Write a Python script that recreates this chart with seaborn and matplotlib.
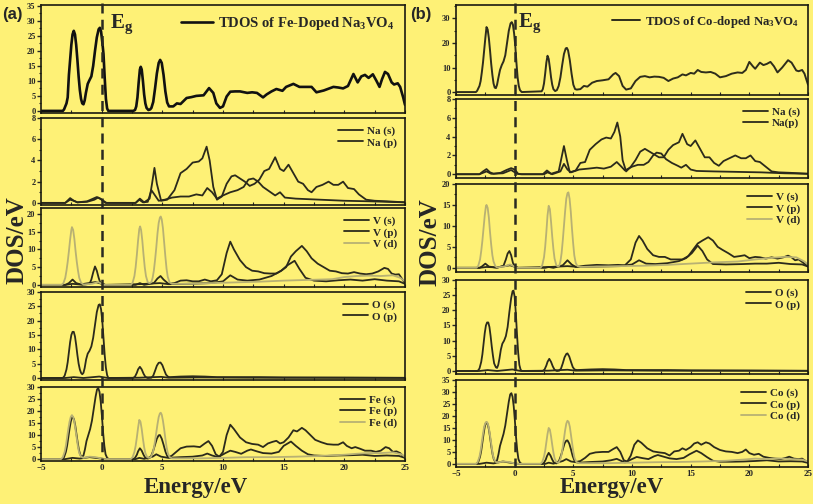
import matplotlib
matplotlib.use("Agg")
import matplotlib.pyplot as plt
import seaborn as sns
from matplotlib import transforms
from matplotlib.lines import Line2D
from matplotlib.ticker import MultipleLocator

# ---------------- data: (energy eV, DOS) ----------------
# (a) Fe-doped Na3VO4
tdos_fe = [(-5,0),(-3.2,0),(-3.1,0.5),(-2.9,2.5),(-2.8,4.5),(-2.7,12),(-2.6,17),(-2.5,22),(-2.4,25.5),
           (-2.3,26.7),(-2.2,25.5),(-2.1,22),(-2.0,17),(-1.9,11.5),(-1.8,7),(-1.7,4),(-1.6,2.5),(-1.5,2.2),
           (-1.4,3.5),(-1.3,6),(-1.15,9),(-1.0,10.3),(-0.85,11.5),(-0.7,15),(-0.55,20),(-0.4,24.5),
           (-0.25,27.2),(-0.15,27.7),(-0.05,26.5),(0.05,23),(0.15,19),(0.25,11),(0.35,4),(0.45,0.8),
           (0.55,0),(2.6,0),(2.75,0.3),(2.85,1.5),(2.95,4.5),(3.05,9.5),(3.15,13.8),(3.22,14.7),
           (3.3,13.8),(3.4,10),(3.5,5.5),(3.6,2.5),(3.7,1),(3.85,0.3),(4.0,0.5),(4.1,1),(4.25,3),
           (4.4,7.5),(4.55,12.5),(4.7,16),(4.82,17),(4.95,16),(5.1,12),(5.25,6.5),(5.4,2.8),(5.55,1.5),
           (5.9,1.5),(6.2,2.5),(6.5,2.3),(7.0,4.3),(7.4,4.6),(7.8,5),(8.4,5.2),(8.85,7.6),(9.2,6),
           (9.45,2.5),(9.75,1.0),(10.0,1.5),(10.3,4.8),(10.6,6.4),(11.0,6.5),(11.4,6.5),(12.0,6),
           (12.4,6.2),(12.8,6),(13.3,4.5),(13.6,5.5),(14.0,6.5),(14.4,7.3),(14.9,6.7),(15.2,8),(15.8,9),
           (16.3,8),(16.8,8),(17.3,8),(17.7,6.2),(18.3,6.8),(19.1,8),(19.5,7.8),(19.9,7.5),(20.3,8.3),
           (20.75,12.3),(21.1,9.5),(21.4,11.5),(21.7,12),(22.0,11),(22.35,12.2),(22.65,10),(22.9,8),
           (23.1,10.5),(23.35,13),(23.6,12.3),(23.9,9.5),(24.1,8.8),(24.4,9.2),(24.6,8),(24.85,4.5),(25,2)]

na_s_fe = [(-5,0),(-3.0,0),(-2.6,0.3),(-2.3,0.2),(-2.0,0.05),(-1.2,0.1),(-0.6,0.3),(-0.3,0.5),(0.0,0.3),
           (0.4,0),(2.8,0),(3.1,0.3),(3.4,0.05),(3.8,0.1),(4.1,1.2),(4.4,0.7),(4.7,0.2),(5.2,0.3),(5.8,0.5),
           (6.5,0.6),(7.2,0.6),(7.8,0.8),(8.3,0.7),(8.7,1.4),(9.1,1.0),(9.5,0.4),(10.0,0.7),(10.6,1.0),
           (11.2,1.2),(11.7,1.5),(12.1,2.2),(12.5,2.3),(12.9,2.0),(13.3,1.5),(13.8,1.1),(14.3,0.7),
           (14.7,1.0),(15.1,0.5),(16.0,0.4),(18,0.3),(20,0.2),(22,0.15),(25,0.05)]
na_p_fe = [(-5,0),(-3.0,0),(-2.6,0.45),(-2.3,0.2),(-2.0,0.05),(-1.2,0.15),(-0.7,0.4),(-0.4,0.55),(-0.1,0.4),
           (0.3,0),(2.8,0),(3.15,0.4),(3.5,0.05),(3.95,0.4),(4.15,1.8),(4.35,3.3),(4.55,1.8),(4.9,0.2),
           (5.4,0.3),(6.0,1.2),(6.5,2.8),(7.0,3.2),(7.5,3.8),(8.0,3.9),(8.3,4.2),(8.65,5.3),(8.9,4.0),
           (9.2,1.5),(9.5,0.3),(9.9,0.6),(10.3,1.8),(10.7,2.5),(11.0,2.6),(11.4,2.3),(11.8,2.0),(12.2,1.6),
           (12.6,1.8),(13.0,2.2),(13.4,3.0),(13.8,3.2),(14.3,4.3),(14.7,3.2),(15.0,3.0),(15.4,3.6),
           (15.8,2.8),(16.2,2.0),(16.6,1.8),(17.0,1.2),(17.3,1.0),(17.7,1.5),(18.2,1.7),(18.7,2.0),
           (19.1,1.7),(19.5,1.7),(19.9,2.0),(20.3,1.4),(20.8,1.3),(21.2,0.8),(21.8,0.3),(22.5,0.2),
           (23.5,0.15),(25,0.05)]

v_s_fe = [(-5,0),(-3,0),(-2.4,0.3),(-1.8,0.1),(-0.5,0.8),(0.3,0),(3.1,0.2),(4.8,0.5),(5.5,0.2),(7,0.3),
          (9,0.5),(10.0,1.0),(10.6,2.7),(11.2,1.5),(12,1.2),(13,1.5),(14,2.5),(14.8,4),(15.3,5.5),
          (15.9,6.8),(16.3,4.5),(16.8,2),(17.5,1.2),(18.5,1.0),(19.5,1.3),(20.5,1.5),(21.5,1.2),
          (22.5,1.6),(23.5,1.2),(24.5,1.0),(25,0.3)]
v_p_fe = [(-5,0),(-3.0,0),(-2.7,0.5),(-2.4,1.5),(-2.1,0.5),(-1.6,0),(-1.0,0.3),(-0.85,1.5),(-0.7,3.5),
          (-0.55,5.2),(-0.4,4),(-0.25,2),(-0.1,0.5),(0.3,0),(2.8,0),(3.15,0.5),(3.5,0),(4.3,0.5),
          (4.6,1.8),(4.85,2.5),(5.1,1.5),(5.5,0.3),(6.0,0.5),(6.5,1.2),(7.0,1.3),(7.5,1.0),(8.0,1.0),
          (8.5,1.5),(9.0,1.0),(9.5,1.3),(9.9,3),(10.3,9),(10.6,12.2),(10.9,10),(11.4,7),(11.9,5),
          (12.4,4),(12.9,3.8),(13.4,3.3),(13.9,3.2),(14.4,3.2),(14.8,4),(15.2,5),(15.6,8),(16.0,9.5),
          (16.5,11),(16.9,9.5),(17.3,7.5),(17.8,6),(18.3,5),(18.8,4),(19.3,3.8),(19.8,3.3),(20.3,3.2),
          (20.8,3.6),(21.3,3.2),(21.8,3.0),(22.3,3.2),(22.8,3.8),(23.3,4.8),(23.6,4.5),(23.9,3.2),
          (24.2,2.9),(24.5,3.0),(24.8,1.5),(25,0.5)]
v_d_fe = [(-5,0),(-3.3,0),(-3.15,0.5),(-3.0,2),(-2.9,4),(-2.8,6.5),(-2.7,9.5),(-2.6,12.8),(-2.5,15.5),
          (-2.45,16.3),(-2.35,15.5),(-2.25,13),(-2.15,9.5),(-2.05,6.5),(-1.95,4),(-1.85,2),(-1.7,0.6),
          (-1.5,0.1),(-0.8,0.3),(-0.3,0.8),(0.2,0),(2.4,0),(2.55,0.6),(2.7,2.5),(2.8,5),(2.9,8.5),
          (3.0,12.5),(3.1,15.8),(3.17,16.5),(3.25,15.5),(3.35,12.5),(3.45,8.5),(3.55,5),(3.65,2.5),
          (3.8,0.7),(3.95,0.5),(4.1,0.8),(4.2,2),(4.3,4),(4.4,7),(4.5,10.5),(4.6,14.5),(4.7,17.5),
          (4.8,19),(4.87,19.3),(4.95,18.5),(5.05,16),(5.15,12),(5.25,8),(5.35,4.5),(5.45,2.2),(5.6,0.7),
          (5.8,0.3),(7,0.3),(9,0.5),(11,0.7),(13,0.9),(15,1.2),(17,1.4),(19,1.6),(20,2.2),(21,2.5),
          (22,2.6),(23,2.5),(24,2.7),(24.6,2.0),(25,1.0)]

o_s_fe = [(-5,0),(-3,0),(-2.3,0.3),(-1.5,0),(-0.2,0.5),(0.5,0),(3.1,0.1),(4.9,0.4),(5.5,0.1),(8,0.2),
          (12,0.1),(25,0.05)]
o_p_fe = [(-5,0),(-3.2,0),(-3.05,0.8),(-2.9,3),(-2.8,5.5),(-2.7,9),(-2.6,12.5),(-2.5,15),(-2.4,16.1),
          (-2.3,16.1),(-2.2,14.5),(-2.1,11.5),(-2.0,8),(-1.9,5),(-1.8,3),(-1.7,1.8),(-1.6,1.3),(-1.5,1.8),
          (-1.4,3.5),(-1.28,6.5),(-1.15,8.5),(-1.0,9.5),(-0.85,11),(-0.7,14),(-0.55,18.5),(-0.4,23),
          (-0.25,25.5),(-0.15,25.7),(-0.05,24),(0.05,20),(0.15,14),(0.25,8),(0.35,3.5),(0.45,1),(0.55,0),
          (2.6,0),(2.75,0.5),(2.9,1.8),(3.0,3),(3.15,3.9),(3.3,3),(3.45,1.5),(3.6,0.4),(3.8,0),(4.1,0.1),
          (4.25,0.8),(4.4,2.5),(4.55,4.3),(4.7,5.3),(4.85,5.4),(5.0,4.5),(5.15,2.8),(5.3,1.2),(5.45,0.5),
          (5.6,0.3),(6.5,0.5),(7.5,0.6),(8.5,0.5),(9.5,0.3),(11,0.3),(13,0.3),(15,0.2),(20,0.15),(25,0.05)]

fe_s = [(-5,0),(-3,0),(-2.4,0.5),(-1.8,0.2),(-1.0,0.8),(-0.5,0.5),(0.3,0),(2.8,0),(3.1,0.5),(3.5,0.1),
        (4.2,1.0),(4.5,2.0),(4.9,1.0),(5.5,0.5),(6.5,0.8),(7.5,1.0),(8.3,1.5),(8.7,2.3),(9.1,1.5),
        (9.6,0.8),(10.2,2.5),(10.6,3.5),(11.0,3.0),(11.5,2.2),(12.0,3.5),(12.3,4.0),(12.8,3.2),
        (13.3,2.5),(14.0,2.3),(14.6,3.0),(15.0,5.5),(15.6,7.3),(16.0,5.5),(16.5,3.5),(17.0,2.0),
        (17.5,1.5),(18.5,1.3),(19.5,1.5),(20.5,1.6),(21.5,1.8),(22.5,1.3),(23.5,1.5),(24.5,1.3),(25,0.5)]
fe_p = [(-5,0),(-3.25,0),(-3.1,0.8),(-2.95,3),(-2.85,5.5),(-2.75,9),(-2.65,12.5),(-2.55,15.5),
        (-2.45,17.3),(-2.38,17.5),(-2.28,16.5),(-2.18,14),(-2.08,10.5),(-1.98,7),(-1.88,4),(-1.78,2),
        (-1.65,0.8),(-1.5,1.5),(-1.38,4),(-1.25,7.5),(-1.1,10),(-0.95,12.5),(-0.8,16),(-0.65,21),
        (-0.5,26),(-0.38,29),(-0.28,29.5),(-0.18,28),(-0.08,24),(0.02,18),(0.12,11),(0.22,5.5),(0.32,2),
        (0.45,0.5),(0.6,0),(2.6,0),(2.75,0.5),(2.9,1.8),(3.0,3.2),(3.15,4.5),(3.3,3.5),(3.45,1.8),
        (3.6,0.5),(3.8,0.2),(3.95,0.5),(4.1,1.5),(4.25,3.5),(4.4,6),(4.55,8.5),(4.7,9.9),(4.8,10),
        (4.95,8.5),(5.1,6),(5.25,3.2),(5.4,1.3),(5.55,0.8),(5.8,1.5),(6.1,2.8),(6.5,4.5),(7.0,5.2),
        (7.6,5.3),(8.1,5),(8.5,6.5),(8.8,7.5),(9.1,5.5),(9.4,2),(9.7,1.0),(10.0,3),(10.3,10),(10.6,14.3),
        (10.9,12.5),(11.4,9),(11.9,7),(12.4,6.3),(12.9,6.0),(13.3,5),(13.7,6.5),(14.1,7.2),(14.4,7.6),
        (14.7,6.5),(15.0,7.0),(15.4,9),(15.8,12),(16.1,11.5),(16.5,13),(16.8,12),(17.2,10),(17.6,8),
        (18.1,7),(18.6,6.2),(19.1,6),(19.5,6),(19.9,7),(20.2,5.5),(20.6,4.5),(20.9,5),(21.3,4.3),
        (21.7,3.5),(22.2,3.5),(22.6,3),(23.0,3.5),(23.4,5),(23.7,4.5),(24.0,3),(24.3,3.2),(24.6,2.5),(25,0.5)]
fe_d = [(-5,0),(-3.35,0),(-3.2,0.8),(-3.05,3),(-2.95,5.5),(-2.85,9),(-2.75,12.5),(-2.65,15.5),
        (-2.55,17.5),(-2.45,18.3),(-2.35,17.5),(-2.25,15.5),(-2.15,12),(-2.05,8.5),(-1.95,5),(-1.85,2.5),
        (-1.7,1),(-1.5,0.5),(-1.0,1.0),(-0.5,0.8),(0.2,0),(2.4,0),(2.55,0.8),(2.7,3),(2.8,5.5),(2.9,9),
        (3.0,13),(3.1,16.3),(3.2,15.5),(3.3,12.5),(3.4,8.5),(3.5,5),(3.6,2.5),(3.75,0.8),(3.9,0.5),
        (4.05,0.8),(4.2,2.5),(4.3,4.5),(4.4,7.5),(4.5,11),(4.6,14.5),(4.7,17.5),(4.8,19),(4.87,19.3),
        (4.95,18.5),(5.05,16),(5.15,12.5),(5.25,8.5),(5.35,5),(5.45,2.5),(5.6,0.8),(5.8,0.3),(8,0.3),
        (10,0.5),(12,0.8),(14,0.8),(16,1.0),(18,1.3),(20,1.8),(21,2.2),(22,2.5),(23,2.5),(24,2.8),
        (24.7,2.0),(25,1.0)]

# (b) Co-doped Na3VO4
tdos_co = [(-5,0),(-3.3,0),(-3.2,0.5),(-3.0,2.5),(-2.9,4.5),(-2.8,8),(-2.7,12),(-2.6,17),(-2.5,22),
           (-2.4,26.5),(-2.3,25.5),(-2.2,22),(-2.1,17),(-2.0,11.5),(-1.9,7),(-1.8,3.5),(-1.7,1.8),
           (-1.6,1.6),(-1.5,3),(-1.4,5.5),(-1.25,9),(-1.1,11),(-0.95,12.5),(-0.8,15),(-0.65,20),(-0.5,25),
           (-0.35,28),(-0.25,28.5),(-0.15,27.5),(-0.05,24),(0.05,19),(0.15,12),(0.25,6),(0.35,2.5),
           (0.45,0.8),(0.6,0),(2.3,0.3),(2.4,1.2),(2.5,3.5),(2.6,7.5),(2.7,12),(2.8,14.8),(2.9,13.5),
           (3.0,10),(3.1,6),(3.2,3),(3.3,1.2),(3.45,0.4),(3.6,0.8),(3.75,2.5),(3.9,6),(4.05,11),(4.2,15.5),
           (4.35,17.8),(4.45,18),(4.55,17),(4.7,13),(4.85,7.5),(5.0,3),(5.15,1.2),(5.3,1),(5.6,1.2),
           (5.9,2.5),(6.2,2.2),(6.6,3.8),(7.0,4.5),(7.5,4.8),(8.0,5.2),(8.4,7.2),(8.6,7.8),(8.9,6.5),
           (9.2,2.5),(9.5,1.0),(9.9,1.5),(10.3,4.5),(10.7,6.2),(11.1,6.5),(11.5,6.0),(11.9,6.3),(12.3,6.2),
           (12.7,5.8),(13.1,4.5),(13.5,5.5),(13.9,6.0),(14.3,7.2),(14.6,6.8),(15.0,7.8),(15.3,7.5),
           (15.6,9.0),(15.9,8.2),(16.3,8),(16.7,8.2),(17.1,7.5),(17.5,6.0),(18.0,6.5),(18.5,7.5),(19.0,8.0),
           (19.4,7.8),(19.7,9),(20.0,12.3),(20.3,10.5),(20.5,9.5),(20.9,12),(21.2,11),(21.5,11.5),
           (21.8,12.3),(22.1,10.5),(22.4,8),(22.8,10),(23.3,13),(23.6,12),(24.0,8.8),(24.2,8.5),(24.5,9),
           (24.7,7.5),(25,3)]

na_s_co = [(-5,0),(-3.0,0),(-2.4,0.3),(-2.0,0.05),(-1.0,0.1),(-0.3,0.45),(0.2,0.05),(0.5,0),(2.5,0),
           (2.8,0.2),(3.2,0),(3.9,0.3),(4.2,1.1),(4.5,0.5),(4.8,0.2),(5.5,0.5),(6.3,0.6),(7.0,0.7),
           (7.6,0.6),(8.2,0.8),(8.7,1.3),(9.1,0.8),(9.4,0.4),(10.0,0.8),(10.5,1.0),(11.0,1.0),(11.4,1.3),
           (11.8,2.0),(12.1,2.3),(12.5,2.2),(12.9,1.6),(13.4,1.2),(13.9,0.9),(14.2,0.7),(14.6,1.0),
           (15.0,0.5),(15.5,0.35),(17,0.3),(19,0.25),(21,0.2),(23,0.1),(25,0.05)]
na_p_co = [(-5,0),(-3.0,0),(-2.7,0.3),(-2.4,0.55),(-2.1,0.2),(-1.8,0.05),(-1.2,0.15),(-0.7,0.45),
           (-0.3,0.65),(0.0,0.5),(0.3,0.05),(0.6,0),(2.4,0),(2.75,0.4),(3.1,0.05),(3.75,0.3),(3.95,1.5),
           (4.2,3.0),(4.45,1.5),(4.7,0.2),(5.2,0.4),(5.6,1.2),(6.0,1.3),(6.4,2.6),(6.9,3.2),(7.4,3.7),
           (7.8,3.9),(8.2,3.8),(8.5,4.5),(8.75,5.5),(9.0,4.0),(9.2,1.5),(9.5,0.3),(9.9,0.8),(10.3,1.5),
           (10.7,2.4),(11.1,2.7),(11.5,2.4),(11.9,2.1),(12.3,1.8),(12.7,1.8),(13.1,2.6),(13.5,3.1),
           (14.0,3.4),(14.3,4.3),(14.7,3.2),(15.0,3.0),(15.4,3.6),(15.8,2.7),(16.2,1.8),(16.6,1.8),
           (17.0,1.2),(17.4,0.9),(17.8,1.4),(18.3,1.7),(18.8,2.0),(19.3,1.7),(19.7,1.7),(20.1,2.0),
           (20.5,1.4),(20.9,1.3),(21.4,0.8),(21.9,0.3),(22.5,0.2),(23.5,0.15),(25,0.05)]

v_s_co = [(-5,0),(-3,0),(-2.4,0.2),(-1.5,0.1),(-0.4,0.6),(0.3,0),(3.0,0.2),(4.5,0.4),(5.5,0.2),(7,0.3),
          (9,0.4),(10.0,0.8),(10.6,1.8),(11.2,1.0),(12,0.9),(13,1.1),(14,1.6),(14.6,2.3),(15.1,3.5),
          (15.6,5.3),(16.0,4.0),(16.4,2.0),(16.9,0.9),(18,0.8),(19.5,0.9),(20.5,1.0),(21.5,1.0),
          (22.5,1.2),(23.5,0.9),(24.5,0.8),(25,0.3)]
v_p_co = [(-5,0),(-3,0),(-2.8,0.3),(-2.5,1.0),(-2.2,0.3),(-1.5,0),(-0.95,0.5),(-0.75,2),(-0.6,3.4),
          (-0.45,4.0),(-0.3,3),(-0.15,1.2),(0.0,0.3),(0.3,0),(2.6,0),(2.9,0.2),(3.3,0),(4.1,0.6),(4.5,1.8),
          (4.85,0.8),(5.2,0.2),(6,0.5),(7,0.7),(8,0.6),(8.8,0.7),(9.4,0.6),(9.9,2),(10.3,6),(10.6,7.6),
          (10.9,6.5),(11.3,4.5),(11.8,3.0),(12.3,2.6),(12.8,2.6),(13.3,2.0),(13.8,2.0),(14.3,2.0),
          (14.8,2.8),(15.2,4.3),(15.6,5.8),(16.0,6.5),(16.5,7.3),(16.9,6.5),(17.3,5.0),(17.7,4.3),
          (18.2,3.5),(18.7,2.6),(19.2,2.8),(19.6,3.0),(20.0,2.3),(20.5,2.6),(20.9,2.5),(21.4,2.2),
          (21.9,2.5),(22.4,2.2),(22.9,2.5),(23.3,2.9),(23.6,2.5),(23.9,1.8),(24.2,2.0),(24.6,1.2),(25,0.3)]
v_d_co = [(-5,0),(-3.25,0),(-3.1,0.5),(-2.95,2),(-2.85,4),(-2.75,6.5),(-2.65,9.5),(-2.55,12.5),
          (-2.45,14.7),(-2.4,15),(-2.3,14.3),(-2.2,12),(-2.1,8.5),(-2.0,5.5),(-1.9,3),(-1.8,1.5),
          (-1.65,0.4),(-1.5,0.1),(-0.9,0.3),(-0.4,0.8),(0.2,0),(2.2,0),(2.35,0.6),(2.5,2.5),(2.6,5),
          (2.7,8.5),(2.8,12.5),(2.9,14.8),(3.0,14),(3.1,11),(3.2,7.5),(3.3,4.5),(3.4,2.2),(3.55,0.6),
          (3.7,0.3),(3.8,0.5),(3.9,1.5),(4.0,3.5),(4.1,6.5),(4.2,10),(4.3,13.5),(4.4,16.5),(4.5,17.8),
          (4.58,18),(4.68,16.5),(4.78,13.5),(4.88,9.5),(4.98,6),(5.08,3),(5.2,1.2),(5.35,0.4),(5.6,0.2),
          (7,0.3),(9,0.4),(11,0.5),(13,0.7),(15,1.0),(17,1.3),(19,1.5),(20.5,2),(22,2.4),(23,2.6),
          (24,2.5),(24.7,1.5),(25,0.8)]

o_s_co = [(-5,0),(-3,0),(-2.3,0.3),(-1.5,0),(-0.2,0.5),(0.5,0),(2.9,0.1),(4.5,0.4),(5.2,0.1),(8,0.2),
          (12,0.1),(25,0.05)]
o_p_co = [(-5,0),(-3.15,0),(-3.0,0.8),(-2.85,3),(-2.75,5.5),(-2.65,9),(-2.55,12.5),(-2.45,15),(-2.35,16),
          (-2.25,16),(-2.15,14.5),(-2.05,11.5),(-1.95,8),(-1.85,5),(-1.75,2.5),(-1.6,1.2),(-1.5,1.0),
          (-1.4,2),(-1.3,4),(-1.18,7),(-1.05,9),(-0.9,10),(-0.75,11.5),(-0.6,14.5),(-0.45,19.5),(-0.3,24),
          (-0.18,26.3),(-0.1,26.5),(0.0,24.5),(0.1,19),(0.2,12),(0.3,6),(0.4,2),(0.5,0.5),(0.6,0),(2.4,0),
          (2.55,0.5),(2.7,1.8),(2.8,3),(2.95,4),(3.1,3),(3.25,1.5),(3.4,0.4),(3.6,0),(3.8,0.1),(3.95,0.8),
          (4.1,2.5),(4.25,4.5),(4.4,5.6),(4.5,5.8),(4.65,4.8),(4.8,3),(4.95,1.3),(5.1,0.5),(5.3,0.3),
          (6.5,0.5),(7.5,0.6),(8.5,0.5),(9.5,0.3),(11,0.3),(13,0.3),(15,0.2),(20,0.15),(25,0.05)]

co_s = [(-5,0),(-3,0),(-2.4,0.5),(-1.8,0.2),(-1.0,1.0),(-0.5,0.6),(0.3,0),(2.6,0),(2.9,0.5),(3.3,0.1),
        (4.1,1.2),(4.4,2.0),(4.8,1.0),(5.5,0.5),(6.5,0.8),(7.5,1.0),(8.2,1.5),(8.7,2.1),(9.1,1.2),
        (9.4,0.6),(10.0,2.0),(10.4,2.9),(10.9,2.4),(11.4,2.0),(11.9,3.2),(12.2,3.7),(12.7,3.0),
        (13.2,2.3),(13.8,2.0),(14.4,2.5),(14.9,4.0),(15.5,5.5),(15.9,4.5),(16.4,2.8),(16.9,1.3),
        (17.5,0.9),(18.5,0.9),(19.5,1.0),(20.5,1.2),(21.5,1.5),(22.5,1.0),(23.5,1.1),(24.5,1.0),(25,0.4)]
co_p = [(-5,0),(-3.25,0),(-3.1,0.8),(-2.95,3),(-2.85,5.5),(-2.75,9),(-2.65,12.5),(-2.55,15.5),
        (-2.45,17.2),(-2.38,17.3),(-2.28,16.3),(-2.18,14),(-2.08,10.5),(-1.98,7),(-1.88,4),(-1.78,2),
        (-1.65,0.8),(-1.5,1.5),(-1.38,4),(-1.25,7.5),(-1.1,10),(-0.95,12.5),(-0.8,16),(-0.65,21),
        (-0.5,26),(-0.38,29),(-0.28,29.5),(-0.18,28),(-0.08,24),(0.02,18),(0.12,11),(0.22,5.5),(0.32,2),
        (0.45,0.5),(0.6,0),(2.35,0),(2.5,0.5),(2.65,1.8),(2.75,3.2),(2.9,4.6),(3.05,3.5),(3.2,1.8),
        (3.35,0.5),(3.55,0.2),(3.65,0.5),(3.8,1.5),(3.95,3.5),(4.1,6),(4.25,8.5),(4.4,9.7),(4.5,9.8),
        (4.65,8.5),(4.8,6),(4.95,3.2),(5.1,1.3),(5.25,0.8),(5.6,1.2),(6.0,2.5),(6.4,4.2),(6.9,4.8),
        (7.5,5.0),(8.0,5.0),(8.4,6.2),(8.7,7.0),(9.0,5.0),(9.3,1.5),(9.6,1.0),(9.9,3.5),(10.2,8),
        (10.5,9.8),(10.8,8.8),(11.3,6.5),(11.8,5.2),(12.3,4.8),(12.8,4.5),(13.2,3.5),(13.6,5.2),
        (14.0,5.5),(14.3,6.5),(14.6,5.8),(15.0,7.0),(15.3,8.5),(15.6,9.0),(15.9,8.0),(16.3,9.0),
        (16.6,8.5),(17.0,7.0),(17.5,5.8),(18.0,5.2),(18.5,5.0),(19.0,4.5),(19.4,5.0),(19.7,6.0),
        (20.0,4.5),(20.4,3.8),(20.8,4.2),(21.2,3.0),(21.7,2.5),(22.2,2.2),(22.7,2.0),(23.1,2.5),
        (23.4,3.0),(23.8,2.2),(24.2,2.0),(24.5,2.2),(24.8,1.2),(25,0.5)]
co_d = [(-5,0),(-3.3,0),(-3.15,0.8),(-3.0,3),(-2.9,5.5),(-2.8,9),(-2.7,12.5),(-2.6,15.5),(-2.5,17),
        (-2.4,17.5),(-2.3,17),(-2.2,15),(-2.1,12),(-2.0,8.5),(-1.9,5),(-1.8,2.5),(-1.65,1),(-1.5,0.5),
        (-1.0,1.0),(-0.5,0.8),(0.2,0),(2.2,0),(2.35,0.8),(2.5,3),(2.6,5.5),(2.7,9),(2.8,12.5),(2.9,15),
        (3.0,14.3),(3.1,11.5),(3.2,8),(3.3,4.8),(3.4,2.3),(3.55,0.8),(3.7,0.4),(3.75,0.5),(3.9,2),
        (4.0,4),(4.1,7),(4.2,10.5),(4.3,14),(4.4,16.8),(4.5,18),(4.6,17.5),(4.7,15.5),(4.8,12),(4.9,8.5),
        (5.0,5),(5.1,2.5),(5.25,0.8),(5.5,0.3),(8,0.3),(10,0.5),(12,0.7),(14,0.8),(16,1.0),(18,1.3),
        (19.5,1.8),(20.5,2.2),(21.5,2.0),(22.5,2.3),(23.5,2.0),(24.5,1.8),(25,1.0)]

# ---------------- style ----------------
YEL = "#fef176"
DARK = "#2b2a1c"
LIGHT = "#b8b173"

sns.set_style("ticks")
plt.rcParams["font.family"] = ["Liberation Serif", "DejaVu Serif"]
plt.rcParams["font.weight"] = "bold"
plt.rcParams["mathtext.fontset"] = "custom"
plt.rcParams["mathtext.rm"] = "Liberation Serif:bold"
plt.rcParams["mathtext.it"] = "Liberation Serif:bold"
plt.rcParams["mathtext.bf"] = "Liberation Serif:bold"
plt.rcParams["mathtext.default"] = "rm"

W, H = 813, 504
fig = plt.figure(figsize=(W / 100, H / 100), dpi=100, facecolor=YEL)


def box(l, t, r, b):
    return [l / W, 1 - b / H, (r - l) / W, (b - t) / H]


sub = r"Na$_{3}$VO$_{4}$"
LW = 1.3
panels_a = [
    ((5, 113), (-0.7, 35.3), 5, [("TDOS of Fe-Doped " + sub, tdos_fe, "#111111", 1.9)], 10.5),
    ((118, 205), (-0.2, 8), 2, [("Na (s)", na_s_fe, DARK, LW), ("Na (p)", na_p_fe, DARK, LW)], 8),
    ((208, 287), (-0.6, 21.7), 5, [("V (s)", v_s_fe, DARK, LW), ("V (p)", v_p_fe, DARK, LW),
                                  ("V (d)", v_d_fe, LIGHT, LW)], 8),
    ((292, 380), (-0.7, 30), 5, [("O (s)", o_s_fe, DARK, LW), ("O (p)", o_p_fe, DARK, LW)], 8),
    ((387, 461), (-0.8, 30), 5, [("Fe (s)", fe_s, DARK, LW), ("Fe (p)", fe_p, DARK, LW),
                                ("Fe (d)", fe_d, LIGHT, LW)], 8),
]
panels_b = [
    ((5, 95), (-1.2, 35.5), 10, [("TDOS of Co-doped " + sub, tdos_co, "#2e2d1c", 1.4)], 9.2),
    ((99, 178), (-0.4, 8), 2, [("Na (s)", na_s_co, DARK, LW), ("Na(p)", na_p_co, DARK, LW)], 8),
    ((184, 272), (-1, 20), 5, [("V (s)", v_s_co, DARK, LW), ("V (p)", v_p_co, DARK, LW),
                               ("V (d)", v_d_co, LIGHT, LW)], 8),
    ((280, 374), (-1, 30), 5, [("O (s)", o_s_co, DARK, LW), ("O (p)", o_p_co, DARK, LW)], 8),
    ((380, 467), (-1.3, 35), 5, [("Co (s)", co_s, DARK, LW), ("Co (p)", co_p, DARK, LW),
                                 ("Co (d)", co_d, LIGHT, LW)], 8),
]


def draw_column(panels, left, right):
    axes = []
    for i, ((top, bot), ylim, ystep, series, lfs) in enumerate(panels):
        ax = fig.add_axes(box(left, top, right, bot))
        ax.set_facecolor(YEL)
        handles = []
        for lab, pts, col, lw in series:
            sns.lineplot(x=[p[0] for p in pts], y=[p[1] for p in pts], ax=ax, color=col, lw=lw,
                         estimator=None, sort=False, legend=False)
            line = ax.lines[-1]
            line.set_label(lab)
            line.set_solid_joinstyle("round")
            handles.append(line)
        ax.set_xlim(-5, 25)
        ax.set_ylim(*ylim)
        ax.yaxis.set_major_locator(MultipleLocator(ystep))
        ax.yaxis.set_minor_locator(MultipleLocator(ystep / 2))
        ax.xaxis.set_major_locator(MultipleLocator(5))
        ax.xaxis.set_minor_locator(MultipleLocator(2.5))
        ax.tick_params(axis="y", which="major", direction="out", length=3, width=1, labelsize=6, pad=1)
        ax.tick_params(axis="y", which="minor", direction="out", length=1.8, width=0.8)
        ax.tick_params(axis="x", which="both", direction="in", length=2.5, width=0.8, labelsize=6.5, pad=2)
        for t in ax.get_yticklabels() + ax.get_xticklabels():
            t.set_fontweight("bold")
        for s in ax.spines.values():
            s.set_linewidth(1.2)
            s.set_color("#1a1a10")
        ax.set_xlabel("")
        ax.set_ylabel("")
        if i < len(panels) - 1:
            ax.tick_params(axis="x", labelbottom=False)
        ax.legend(handles=handles, loc="upper right", frameon=False, handlelength=2.2,
                  handletextpad=0.4, labelspacing=0.15, borderaxespad=0.3,
                  prop={"family": "Liberation Serif", "weight": "bold", "size": lfs})
        axes.append(ax)
    return axes


axes_a = draw_column(panels_a, 41, 405)
axes_b = draw_column(panels_b, 456, 808)

# Fermi-level dashed line through every panel
for axes, top, bot in [(axes_a, 3, 461), (axes_b, 3, 467)]:
    tr = transforms.blended_transform_factory(axes[-1].transData, fig.transFigure)
    fig.add_artist(Line2D([0, 0], [1 - top / H, 1 - bot / H], transform=tr, color="#2a2a22",
                          lw=1.8, linestyle=(0, (4, 2.5)), zorder=10))

# labels
eg = r"E$_{\mathrm{g}}$"
fig.text(110 / W, 1 - 28 / H, eg, fontsize=15, fontweight="bold", va="baseline", ha="left")
fig.text(518 / W, 1 - 27 / H, eg, fontsize=15, fontweight="bold", va="baseline", ha="left")
fig.text(2 / W, 1 - 15 / H, "(a)", fontsize=12, fontweight="bold", family="Liberation Sans", va="center")
fig.text(410 / W, 1 - 15 / H, "(b)", fontsize=12, fontweight="bold", family="Liberation Sans", va="center")
fig.text(17 / W, 1 - 240 / H, "DOS/eV", fontsize=18, fontweight="bold", rotation=90, ha="center", va="center")
fig.text(430 / W, 1 - 242 / H, "DOS/eV", fontsize=18, fontweight="bold", rotation=90, ha="center", va="center")
fig.text(196 / W, 1 - 487 / H, "Energy/eV", fontsize=16.5, fontweight="bold", ha="center", va="center")
fig.text(612 / W, 1 - 487 / H, "Energy/eV", fontsize=16.5, fontweight="bold", ha="center", va="center")

fig.savefig("out.png", dpi=100, facecolor=YEL)
